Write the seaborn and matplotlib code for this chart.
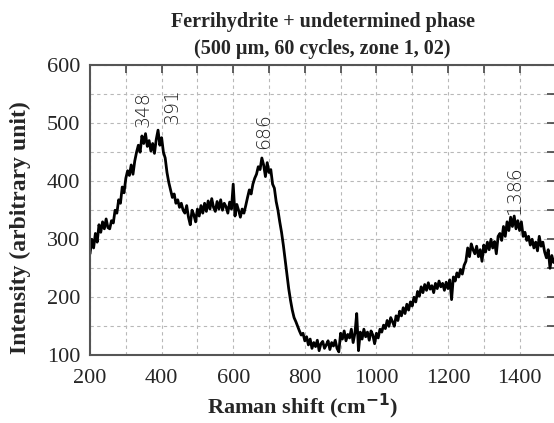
import numpy as np
import pandas as pd
import matplotlib
matplotlib.use("Agg")
import matplotlib.pyplot as plt
import seaborn as sns
from matplotlib.ticker import MultipleLocator

# Raman shift (cm-1), one reading every 5 cm-1
shift = list(range(200, 1505, 5))

# Intensity
intensity = [
    275, 300, 285, 310, 295, 325, 312, 330, 318, 335, 320, 318, 332, 328, 350, 345, 368, 362, 390, 380,
    405, 418, 410, 428, 412, 435, 450, 462, 450, 478, 465, 482, 460, 470, 452, 465, 448, 472, 488, 462,
    475, 450, 440, 415, 398, 385, 372, 378, 362, 368, 355, 362, 350, 345, 358, 338, 325, 350, 342, 330,
    352, 340, 358, 345, 362, 348, 366, 352, 370, 355, 348, 365, 352, 368, 350, 362, 356, 345, 364, 352,
    395, 340, 360, 350, 338, 352, 345, 358, 372, 385, 378, 395, 405, 412, 425, 420, 440, 428, 408, 432,
    415, 420, 395, 388, 365, 350, 330, 312, 290, 265, 240, 215, 195, 178, 165, 158, 150, 142, 135, 138,
    125, 132, 118, 128, 112, 122, 115, 126, 108, 120, 124, 112, 118, 125, 110, 122, 116, 126, 112, 106,
    138, 128, 142, 125, 136, 130, 145, 122, 138, 172, 108, 140, 128, 145, 132, 140, 126, 142, 135, 120,
    138, 130, 145, 140, 152, 146, 160, 150, 165, 158, 150, 168, 160, 176, 168, 182, 172, 188, 178, 192,
    185, 200, 192, 210, 202, 218, 208, 222, 212, 225, 214, 220, 208, 224, 215, 228, 218, 224, 212, 226,
    215, 230, 196, 235, 228, 242, 235, 248, 240, 255, 262, 285, 270, 292, 282, 275, 288, 270, 282, 262,
    290, 278, 295, 282, 300, 285, 296, 275, 305, 310, 298, 322, 305, 330, 315, 338, 322, 340, 318, 332,
    315, 330, 305, 312, 298, 305, 290, 300, 285, 295, 280, 305, 288, 295, 278, 268, 282, 250, 272, 260,
    268,
]

# Peak labels
peak_pos = [348, 391, 686, 1386]
peak_top = [493, 498, 455, 343]

df = pd.DataFrame({"shift": shift, "intensity": intensity})

sns.set_style("white")
plt.rcParams["font.family"] = ["Liberation Serif", "DejaVu Serif"]

fig = plt.figure(figsize=(5.54, 4.23), dpi=100)
ax = fig.add_axes([0.1625, 0.16, 0.84, 0.686])

sns.lineplot(data=df, x="shift", y="intensity", color="black", lw=2.0, ax=ax)

ax.set_xlim(200, 1500)
ax.set_ylim(100, 600)
ax.xaxis.set_major_locator(MultipleLocator(200))
ax.xaxis.set_minor_locator(MultipleLocator(100))
ax.yaxis.set_major_locator(MultipleLocator(100))
ax.yaxis.set_minor_locator(MultipleLocator(50))

ax.grid(which="both", color="#b8b8b8", linestyle=(0, (3, 3)), linewidth=0.8)
ax.tick_params(which="both", direction="in", top=True, right=True, color="#444444", width=1.2)
ax.tick_params(which="major", length=6, labelsize=16)
ax.tick_params(axis="x", which="major", pad=10)
ax.tick_params(axis="y", which="major", pad=7)
ax.tick_params(which="minor", length=6)
for s in ax.spines.values():
    s.set_color("#555555")
    s.set_linewidth(1.5)

ax.set_xlabel("Raman shift (cm$^{\\mathbf{-1}}$)", fontsize=16, fontweight="bold")
ax.xaxis.set_label_coords(0.456, -0.125)
ax.set_ylabel("Intensity (arbitrary unit)", fontsize=17, fontweight="bold")
ax.yaxis.set_label_coords(-0.127, 0.44)
ax.set_title("Ferrihydrite + undetermined phase\n(500 µm, 60 cycles, zone 1, 02)",
             fontsize=14.5, fontweight="bold", pad=8, linespacing=1.5)

# small sideways nudge so the two close labels do not collide
nudge = {391: 10}
for p, t in zip(peak_pos, peak_top):
    ax.annotate(str(p), (p, t), xytext=(nudge.get(p, 0), 0), textcoords="offset points",
                rotation=90, ha="center", va="bottom", fontsize=13.5,
                family=["DejaVu Sans"], color="#222222", fontweight="light")

fig.savefig("out.png", dpi=100)
